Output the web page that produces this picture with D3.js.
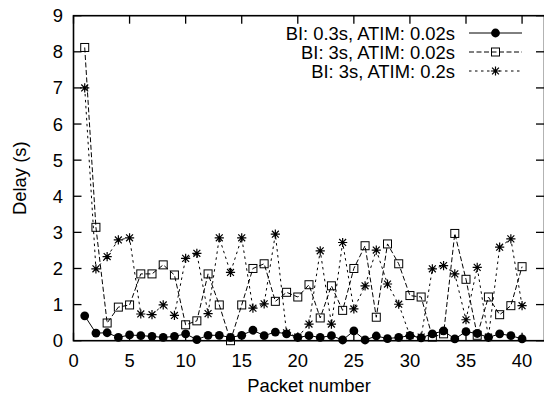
<!DOCTYPE html>
<html>
<head>
<meta charset="utf-8">
<script src="https://cdn.jsdelivr.net/npm/d3@7"></script>
<style>
  html, body { margin: 0; padding: 0; background: #fff; }
  svg { display: block; font-family: "Liberation Sans", Arial, sans-serif; }
</style>
</head>
<body>
<svg id="chart" width="544" height="396"></svg>
<script>
// Packet delay for three beacon-interval / ATIM-window configurations
const packets = d3.range(1, 41);

const delayBI03Atim002 = [
  0.69, 0.21, 0.22, 0.09, 0.16, 0.14, 0.12, 0.09, 0.12, 0.19,
  0.03, 0.15, 0.15, 0.09, 0.15, 0.29, 0.14, 0.24, 0.19, 0.09,
  0.14, 0.09, 0.14, 0.02, 0.27, 0.02, 0.13, 0.06, 0.09, 0.14,
  0.08, 0.19, 0.27, 0.05, 0.25, 0.20, 0.09, 0.19, 0.14, 0.05
];
const delayBI3Atim002 = [
  8.12, 3.14, 0.49, 0.93, 0.99, 1.85, 1.85, 2.10, 1.82, 0.44,
  0.55, 1.85, 0.99, 0.00, 0.99, 2.00, 2.13, 1.09, 1.34, 1.21,
  1.55, 0.63, 1.52, 0.84, 2.00, 2.63, 0.65, 2.68, 2.13, 1.25,
  1.21, 0.10, 0.19, 2.97, 1.70, 0.15, 1.21, 0.72, 0.97, 2.05
];
const delayBI3Atim02 = [
  7.00, 1.99, 2.33, 2.79, 2.85, 0.74, 0.72, 0.99, 0.70, 2.28,
  2.42, 0.75, 2.85, 1.89, 2.85, 0.90, 1.02, 2.95, 0.22, 0.10,
  0.46, 2.49, 0.46, 2.72, 0.88, 1.52, 2.51, 1.57, 1.01, 0.14,
  0.10, 1.99, 2.08, 1.85, 0.58, 2.03, 0.10, 2.59, 2.82, 0.97
];

const seriesLabels = ["BI: 0.3s, ATIM: 0.02s", "BI: 3s, ATIM: 0.02s", "BI: 3s, ATIM: 0.2s"];
const xTickValues = [0, 5, 10, 15, 20, 25, 30, 35, 40];
const yTickValues = [0, 1, 2, 3, 4, 5, 6, 7, 8, 9];

const series = [
  { label: seriesLabels[0], values: delayBI03Atim002, dash: null, marker: "circle" },
  { label: seriesLabels[1], values: delayBI3Atim002, dash: "5,2.5", marker: "square" },
  { label: seriesLabels[2], values: delayBI3Atim02, dash: "2.5,3.5", marker: "star" }
];

const svg = d3.select("#chart");
const plotLeft = 73.5, plotRight = 544.5, plotTop = 15.7, plotBottom = 340.7;

const x = d3.scaleLinear().domain([0, 42]).range([plotLeft, plotRight]);
const y = d3.scaleLinear().domain([0, 9]).range([plotBottom, plotTop]);

const fontSize = 18.4;
const tickLen = 8;

// tick marks on all four sides, pointing inward
const g = svg.append("g");
xTickValues.forEach(v => {
  g.append("line").attr("x1", x(v)).attr("x2", x(v))
    .attr("y1", plotBottom).attr("y2", plotBottom - tickLen)
    .attr("stroke", "#000").attr("stroke-width", 1.3);
  g.append("line").attr("x1", x(v)).attr("x2", x(v))
    .attr("y1", plotTop).attr("y2", plotTop + tickLen)
    .attr("stroke", "#000").attr("stroke-width", 1.3);
  g.append("text").attr("x", x(v)).attr("y", 367)
    .attr("text-anchor", "middle").attr("font-size", fontSize)
    .text(v);
});
yTickValues.forEach(v => {
  g.append("line").attr("x1", plotLeft).attr("x2", plotLeft + tickLen)
    .attr("y1", y(v)).attr("y2", y(v))
    .attr("stroke", "#000").attr("stroke-width", 1.3);
  g.append("line").attr("x1", plotRight - 0.5).attr("x2", plotRight - 0.5 - tickLen)
    .attr("y1", y(v)).attr("y2", y(v))
    .attr("stroke", "#000").attr("stroke-width", 1.3);
  g.append("text").attr("x", 63).attr("y", y(v) + 6.5)
    .attr("text-anchor", "end").attr("font-size", fontSize)
    .text(v);
});

// plot frame
svg.append("rect")
  .attr("x", plotLeft).attr("y", plotTop)
  .attr("width", plotRight - plotLeft).attr("height", plotBottom - plotTop)
  .attr("fill", "none").attr("stroke", "#000").attr("stroke-width", 1.6);

// axis titles
svg.append("text")
  .attr("x", 309).attr("y", 392)
  .attr("text-anchor", "middle").attr("font-size", fontSize)
  .text("Packet number");
svg.append("text")
  .attr("transform", `translate(26,${(plotTop + plotBottom) / 2}) rotate(-90)`)
  .attr("text-anchor", "middle").attr("font-size", fontSize)
  .text("Delay (s)");

// marker drawing helper
function drawMarker(sel, type, cx, cy) {
  if (type === "circle") {
    sel.append("circle").attr("cx", cx).attr("cy", cy).attr("r", 4.4)
      .attr("fill", "#000");
  } else if (type === "square") {
    sel.append("rect").attr("x", cx - 4).attr("y", cy - 4)
      .attr("width", 8).attr("height", 8)
      .attr("fill", "none").attr("stroke", "#000").attr("stroke-width", 1);
  } else {
    const r = 4.6, d = r * 0.75;
    const p = `M${cx - r},${cy}L${cx + r},${cy}M${cx},${cy - r}L${cx},${cy + r}` +
              `M${cx - d},${cy - d}L${cx + d},${cy + d}M${cx - d},${cy + d}L${cx + d},${cy - d}`;
    sel.append("path").attr("d", p).attr("stroke", "#000").attr("stroke-width", 1.2)
      .attr("fill", "none");
  }
}

const line = d3.line().x((d, i) => x(packets[i])).y(d => y(d));

series.forEach(s => {
  const sg = svg.append("g");
  sg.append("path").datum(s.values)
    .attr("d", line)
    .attr("fill", "none").attr("stroke", "#000").attr("stroke-width", 1)
    .attr("stroke-dasharray", s.dash);
  s.values.forEach((v, i) => drawMarker(sg, s.marker, x(packets[i]), y(v)));
});

// legend
const legendRows = [33, 52, 71];
series.forEach((s, i) => {
  const ly = legendRows[i];
  svg.append("text").attr("x", 455).attr("y", ly + 6.5)
    .attr("text-anchor", "end").attr("font-size", fontSize)
    .text(s.label);
  svg.append("line").attr("x1", 469).attr("x2", 522)
    .attr("y1", ly).attr("y2", ly)
    .attr("stroke", "#000").attr("stroke-width", 1)
    .attr("stroke-dasharray", s.dash);
  drawMarker(svg, s.marker, 495.5, ly);
});
</script>
</body>
</html>
